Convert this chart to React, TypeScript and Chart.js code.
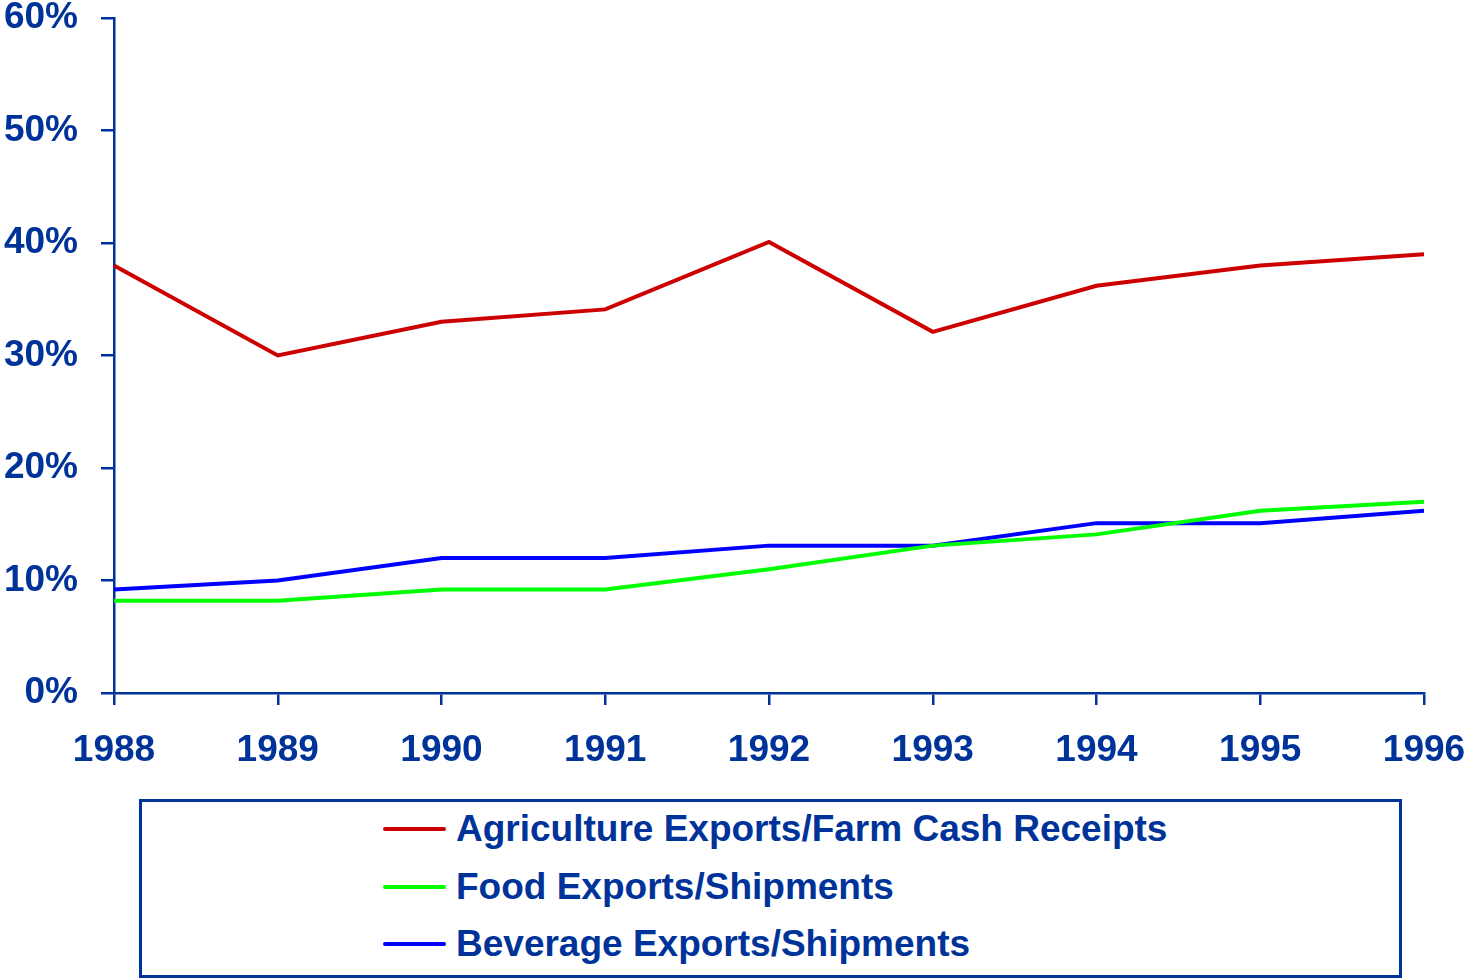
import React, { useEffect, useRef } from "react";
import { Chart, registerables } from "chart.js";

Chart.register(...registerables);

const years = ["1988", "1989", "1990", "1991", "1992", "1993", "1994", "1995", "1996"];
const agriculture = [38, 30, 33, 34.1, 40.1, 32.1, 36.2, 38, 39];
const food = [8.2, 8.2, 9.2, 9.2, 11, 13.1, 14.1, 16.2, 17];
const beverage = [9.2, 10, 12, 12, 13.1, 13.1, 15.1, 15.1, 16.2];
const seriesNames = [
  "Agriculture Exports/Farm Cash Receipts",
  "Food Exports/Shipments",
  "Beverage Exports/Shipments",
];
const seriesColors = ["#CC0000", "#00FF00", "#0000FF"];

const AXIS = "#003399";
const FONT = "'Liberation Sans', Arial, sans-serif";

export default function App() {
  const ref = useRef<HTMLCanvasElement | null>(null);

  useEffect(() => {
    if (!ref.current) return;
    const chart = new Chart(ref.current, {
      type: "line",
      data: {
        labels: years,
        datasets: [agriculture, food, beverage].map((d, i) => ({
          label: seriesNames[i],
          data: d,
          borderColor: seriesColors[i],
          backgroundColor: seriesColors[i],
          borderWidth: 4,
          pointRadius: 0,
          tension: 0,
          fill: false,
        })),
      },
      options: {
        responsive: false,
        animation: false,
        layout: { padding: { left: 0, right: 41, top: 18, bottom: 0 } },
        plugins: { legend: { display: false }, tooltip: { enabled: false } },
        scales: {
          x: {
            offset: false,
            grid: { drawOnChartArea: false, drawTicks: true, tickLength: 12, color: AXIS, lineWidth: 2.5 },
            border: { color: AXIS, width: 2.5 },
            ticks: {
              color: AXIS,
              font: { family: FONT, size: 37, weight: "bold" },
              padding: 24,
              maxRotation: 0,
              autoSkip: false,
            },
            afterFit: (s: any) => {
              s.height = 97;
              s.paddingLeft = 0;
              s.paddingRight = 0;
            },
          },
          y: {
            min: 0,
            max: 60,
            grid: { drawOnChartArea: false, drawTicks: true, tickLength: 13, color: AXIS, lineWidth: 2.5 },
            border: { color: AXIS, width: 2.5 },
            ticks: {
              stepSize: 10,
              color: AXIS,
              font: { family: FONT, size: 37, weight: "bold" },
              padding: 23,
              callback: (v: any) => v + "%",
            },
            afterFit: (s: any) => {
              s.width = 114;
              s.paddingTop = 0;
              s.paddingBottom = 0;
            },
          },
        },
      },
    });
    return () => chart.destroy();
  }, []);

  const rowCenters = [829, 887, 944];

  return (
    <div style={{ position: "absolute", left: 0, top: 0, width: 1465, height: 979, background: "#fff" }}>
      <canvas ref={ref} width={1465} height={790} style={{ position: "absolute", left: 0, top: 0, width: 1465, height: 790 }} />
      <div
        style={{
          position: "absolute",
          left: 139,
          top: 799,
          width: 1263,
          height: 179,
          boxSizing: "border-box",
          border: `3px solid ${AXIS}`,
        }}
      />
      {seriesNames.map((name, i) => (
        <div
          key={name}
          style={{
            position: "absolute",
            left: 383,
            top: rowCenters[i] - 25,
            height: 50,
            display: "flex",
            alignItems: "center",
            whiteSpace: "nowrap",
          }}
        >
          <div style={{ width: 63, height: 4, borderRadius: 2, background: seriesColors[i], marginRight: 10 }} />
          <span style={{ fontFamily: FONT, fontWeight: "bold", fontSize: 37, color: AXIS, lineHeight: "50px" }}>{name}</span>
        </div>
      ))}
    </div>
  );
}
